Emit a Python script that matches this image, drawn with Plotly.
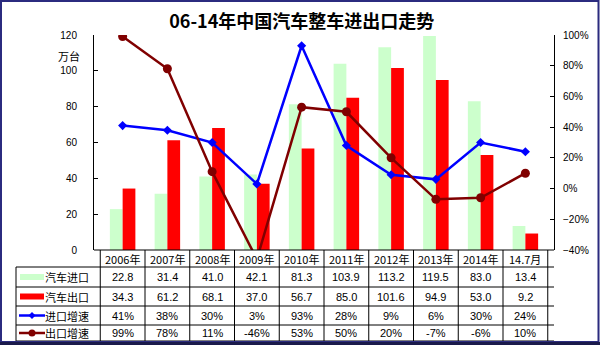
import plotly.graph_objects as go

# Annual figures (10k units) and year-on-year growth (%)
categories = ["2006年", "2007年", "2008年", "2009年", "2010年",
              "2011年", "2012年", "2013年", "2014年", "14.7月"]
import_vol = [22.8, 31.4, 41.0, 42.1, 81.3, 103.9, 113.2, 119.5, 83.0, 13.4]
export_vol = [34.3, 61.2, 68.1, 37.0, 56.7, 85.0, 101.6, 94.9, 53.0, 9.2]
import_growth = [41, 38, 30, 3, 93, 28, 9, 6, 30, 24]
export_growth = [99, 78, 11, -46, 53, 50, 20, -7, -6, 10]

row_names = ["汽车进口", "汽车出口", "进口增速", "出口增速"]

GREEN = "#CCFFCC"
RED = "#FF0000"
BLUE = "#0000FF"
MAROON = "#800000"

W, H = 600, 345
ML, MR, MT, MB = 94, 46, 35, 95
PW, PH = W - ML - MR, H - MT - MB


def px(x):
    return (x - ML) / PW


def py(y):
    return (H - MB - y) / PH


fig = go.Figure()
fig.add_trace(go.Bar(x=categories, y=import_vol, name=row_names[0],
                     marker=dict(color=GREEN, line=dict(width=0))))
fig.add_trace(go.Bar(x=categories, y=export_vol, name=row_names[1],
                     marker=dict(color=RED, line=dict(width=0))))
fig.add_trace(go.Scatter(x=categories, y=import_growth, name=row_names[2], yaxis="y2",
                         mode="lines+markers", line=dict(color=BLUE, width=2.5),
                         marker=dict(symbol="diamond", size=7, color=BLUE)))
fig.add_trace(go.Scatter(x=categories, y=export_growth, name=row_names[3], yaxis="y2",
                         mode="lines+markers", line=dict(color=MAROON, width=2.5),
                         marker=dict(symbol="circle", size=9, color=MAROON)))

font_num = "Liberation Sans, Arial, sans-serif"
font_cjk = "Noto Sans CJK SC, sans-serif"

shapes = []
annotations = []


def label(x, y, text, xref="paper", size=11, family=font_num, color="#000",
          xanchor="center"):
    annotations.append(dict(x=x, y=y, xref=xref, yref="paper", text=text,
                            showarrow=False, xanchor=xanchor, yanchor="middle",
                            font=dict(family=family, size=size, color=color)))


# data table under the plot
row_lines = [267, 287, 306, 325, 341]
row_centers = [277, 296.5, 315.5, 333]
header_center = 258.5
line_style = dict(color="#000000", width=1)

shapes.append(dict(type="line", xref="paper", yref="paper", x0=0, x1=1,
                   y0=py(250), y1=py(250), line=line_style))
for yl in row_lines:
    shapes.append(dict(type="line", xref="paper", yref="paper", x0=px(16), x1=1,
                       y0=py(yl), y1=py(yl), line=line_style))
shapes.append(dict(type="line", xref="paper", yref="paper", x0=px(16), x1=px(16),
                   y0=py(267), y1=py(341), line=line_style))
for i in range(len(categories) + 1):
    shapes.append(dict(type="line", xref="x", yref="paper", x0=i - 0.5, x1=i - 0.5,
                       y0=py(250), y1=py(341), line=line_style))

for i, c in enumerate(categories):
    label(c, py(header_center), c, xref="x", family=font_cjk)
    cells = [f"{import_vol[i]:.1f}", f"{export_vol[i]:.1f}",
             f"{import_growth[i]}%", f"{export_growth[i]}%"]
    for r, t in enumerate(cells):
        label(c, py(row_centers[r]), t, xref="x")

# row labels with legend keys
for r, name in enumerate(row_names):
    label(px(91), py(row_centers[r]), name, family=font_cjk, xanchor="right")
yc = row_centers
shapes.append(dict(type="rect", xref="paper", yref="paper", x0=px(20), x1=px(44),
                   y0=py(yc[0] - 3), y1=py(yc[0] + 3), fillcolor=GREEN, line=dict(width=0)))
shapes.append(dict(type="rect", xref="paper", yref="paper", x0=px(20), x1=px(44),
                   y0=py(yc[1] - 3), y1=py(yc[1] + 3), fillcolor=RED, line=dict(width=0)))
shapes.append(dict(type="line", xref="paper", yref="paper", x0=px(19), x1=px(45),
                   y0=py(yc[2]), y1=py(yc[2]), line=dict(color=BLUE, width=2.5)))
shapes.append(dict(type="line", xref="paper", yref="paper", x0=px(19), x1=px(45),
                   y0=py(yc[3]), y1=py(yc[3]), line=dict(color=MAROON, width=2.5)))
shapes.append(dict(type="path", xref="paper", yref="paper",
                   path=(f"M {px(32)},{py(yc[2] - 3.5)} L {px(35.5)},{py(yc[2])} "
                         f"L {px(32)},{py(yc[2] + 3.5)} L {px(28.5)},{py(yc[2])} Z"),
                   fillcolor=BLUE, line=dict(width=0)))
shapes.append(dict(type="circle", xref="paper", yref="paper", x0=px(28.5), x1=px(35.5),
                   y0=py(yc[3] - 3.5), y1=py(yc[3] + 3.5), fillcolor=MAROON,
                   line=dict(width=0)))

# outer frame
shapes.append(dict(type="rect", xref="paper", yref="paper", x0=px(1), x1=px(598.5),
                   y0=py(1), y1=py(342), line=dict(color="#2B2B7F", width=2)))
shapes.append(dict(type="line", xref="paper", yref="paper", x0=px(0), x1=px(600),
                   y0=py(343.5), y1=py(343.5), line=dict(color="#1A1A4A", width=3)))

# unit label
label(px(69), py(56), "万台", family=font_cjk)

fig.update_layout(
    width=W, height=H,
    margin=dict(l=ML, r=MR, t=MT, b=MB),
    paper_bgcolor="#FFFFFF", plot_bgcolor="#FFFFFF",
    title=dict(text="<b>06-14年中国汽车整车进出口走势</b>", x=0.503, xanchor="center",
               y=1 - 22 / H, yanchor="middle",
               font=dict(family=font_cjk, size=18, color="#000")),
    barmode="group", bargap=0.43, bargroupgap=0,
    showlegend=False,
    xaxis=dict(showticklabels=False, ticks="", showgrid=False, showline=False,
               zeroline=False),
    yaxis=dict(range=[0, 120], dtick=20, showgrid=False, zeroline=False,
               showline=True, linecolor="#000", linewidth=1, ticks="inside",
               ticklen=4, tickcolor="#000", ticklabelstandoff=14,
               tickfont=dict(family=font_num, size=10, color="#000")),
    yaxis2=dict(range=[-40, 100], dtick=20, overlaying="y", side="right",
                ticksuffix="%", showgrid=False, zeroline=False,
                showline=True, linecolor="#000", linewidth=1, ticks="inside",
                ticklen=4, tickcolor="#000", ticklabelstandoff=6,
                tickfont=dict(family=font_num, size=10, color="#000")),
    shapes=shapes,
    annotations=annotations,
)

fig.write_html("out.html")
